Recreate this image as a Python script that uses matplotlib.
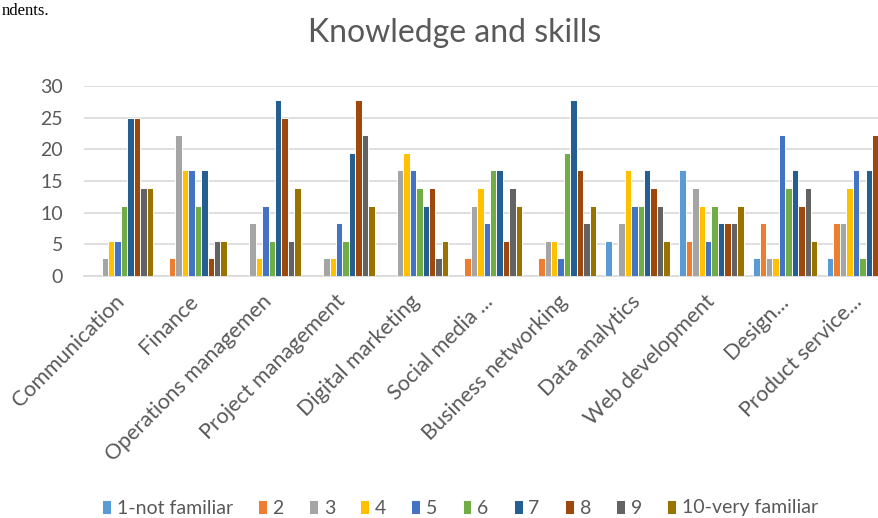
import matplotlib
matplotlib.use("Agg")
import matplotlib.pyplot as plt
import numpy as np

categories = ["Communication", "Finance", "Operations managemen", "Project management",
              "Digital marketing", "Social media ...", "Business networking",
              "Data analytics", "Web development", "Design...", "Product service..."]

series_names = ["1-not familiar", "2", "3", "4", "5", "6", "7", "8", "9", "10-very familiar"]

# percentage of respondents per familiarity level, one list per level
lvl1 = [0, 0, 0, 0, 0, 0, 0, 5.56, 16.67, 2.78, 2.78]
lvl2 = [0, 2.78, 0, 0, 0, 2.78, 2.78, 0, 5.56, 8.33, 8.33]
lvl3 = [2.78, 22.22, 8.33, 2.78, 16.67, 11.11, 5.56, 8.33, 13.89, 2.78, 8.33]
lvl4 = [5.56, 16.67, 2.78, 2.78, 19.44, 13.89, 5.56, 16.67, 11.11, 2.78, 13.89]
lvl5 = [5.56, 16.67, 11.11, 8.33, 16.67, 8.33, 2.78, 11.11, 5.56, 22.22, 16.67]
lvl6 = [11.11, 11.11, 5.56, 5.56, 13.89, 16.67, 19.44, 11.11, 11.11, 13.89, 2.78]
lvl7 = [25.0, 16.67, 27.78, 19.44, 11.11, 16.67, 27.78, 16.67, 8.33, 16.67, 16.67]
lvl8 = [25.0, 2.78, 25.0, 27.78, 13.89, 5.56, 16.67, 13.89, 8.33, 11.11, 22.22]
lvl9 = [13.89, 5.56, 5.56, 22.22, 2.78, 13.89, 8.33, 11.11, 8.33, 13.89, 2.78]
lvl10 = [13.89, 5.56, 13.89, 11.11, 5.56, 11.11, 11.11, 5.56, 11.11, 5.56, 5.56]

levels = [lvl1, lvl2, lvl3, lvl4, lvl5, lvl6, lvl7, lvl8, lvl9, lvl10]

colors = ["#5B9BD5", "#ED7D31", "#A5A5A5", "#FFC000", "#4472C4",
          "#70AD47", "#255E91", "#9E480E", "#636363", "#997300"]

plt.rcParams["font.family"] = ["Lato", "DejaVu Sans"]
text_color = "#595959"
grid_color = "#D9D9D9"

W, H = 879, 518
fig = plt.figure(figsize=(W / 100, H / 100), dpi=100)

# plot area in pixel terms (extends past the right edge of the canvas)
left_px, right_px = 84, 896
top_px, bottom_px = 86, 276
ax = fig.add_axes([left_px / W, 1 - bottom_px / H,
                   (right_px - left_px) / W, (bottom_px - top_px) / H])

x = np.arange(len(categories))
n = len(levels)
group_w = 0.871
bw = group_w / n
for i, (vals, c, name) in enumerate(zip(levels, colors, series_names)):
    offs = (i - (n - 1) / 2) * bw
    ax.bar(x + offs, vals, width=bw, color=c, edgecolor="white",
           linewidth=0.7, label=name, zorder=3)

ax.set_xlim(-0.5, len(categories) - 0.5)
ax.set_ylim(0, 30)
ax.set_yticks(np.arange(0, 31, 5))
ax.yaxis.grid(True, color=grid_color, linewidth=1.2, zorder=0)
ax.set_axisbelow(True)
for s in ["top", "right", "left"]:
    ax.spines[s].set_visible(False)
ax.spines["bottom"].set_color(grid_color)
ax.spines["bottom"].set_linewidth(1.2)
ax.tick_params(axis="both", length=0, colors=text_color, labelsize=14)
ax.tick_params(axis="y", pad=15)
ax.set_xticks(x)
ax.set_xticklabels(categories, rotation=45, ha="right", va="center",
                   rotation_mode="anchor", fontsize=15.5, color=text_color)
ax.tick_params(axis="x", pad=16)

fig.text(455 / W, 1 - 33 / H, "Knowledge and skills", ha="center", va="center",
         fontsize=23, color=text_color)

# fragment of the surrounding document text above the chart
fig.text(2 / W, 1 - 15 / H, "ndents.", ha="left", va="baseline",
         fontsize=12, family=["Liberation Serif"], color="black")

handles, labels = ax.get_legend_handles_labels()
leg = fig.legend(handles, labels, loc="center", bbox_to_anchor=(460 / W, 1 - 508 / H),
                 ncol=10, frameon=False, fontsize=14, handlelength=0.45,
                 handleheight=0.7, handletextpad=0.3, columnspacing=1.3)
for t in leg.get_texts():
    t.set_color(text_color)

fig.savefig("out.png", dpi=100)
